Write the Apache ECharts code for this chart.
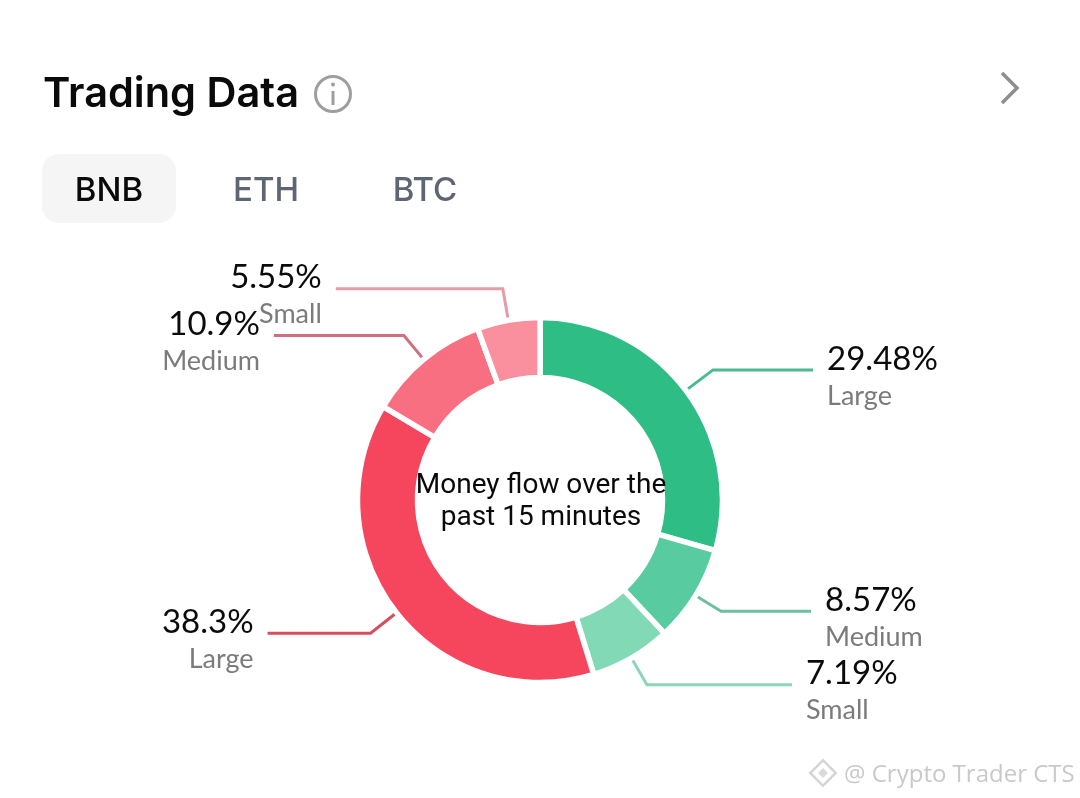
<!DOCTYPE html>
<html><head><meta charset="utf-8">
<style>html,body{margin:0;padding:0;background:#fff}#c{width:1080px;height:798px}</style>
<script src="https://cdn.jsdelivr.net/npm/echarts@6/dist/echarts.min.js"></script>
</head><body><div id="c"></div>
<script>
const sizes = ['Large','Medium','Small','Large','Medium','Small'];
const values = [29.48,8.57,7.19,38.3,10.9,5.55];
const sliceColors = ['#2EBD85','#58CBA0','#82D9B6','#F6465D','#F86F81','#FA909E'];
const lineColors = ['#4DBA92','#6DBFA3','#8CD5B9','#D4505F','#D0707E','#E59CA6'];
const lineLen = [34,30,31,33,31,32];
const lineLen2 = [100,90,145,103,130,167];
const tabs = ['BNB','ETH','BTC'];
const centerLines = ['Money flow over the','past 15 minutes'];

const chart = echarts.init(document.getElementById('c'),null,{renderer:'canvas'});
const F = 'Inter, "Open Sans", sans-serif';
const L = 'Lato, "Open Sans", sans-serif';
chart.setOption({
  animation:false,
  backgroundColor:'#fff',
  series:[{
    type:'pie',
    center:[540,500],
    radius:[122.5,182.5],
    startAngle:90,
    clockwise:true,
    avoidLabelOverlap:false,
    minShowLabelAngle:0,
    labelLayout:{hideOverlap:false,moveOverlap:false},
    itemStyle:{borderColor:'#fff',borderWidth:5.5},
    emphasis:{disabled:true},
    label:{
      formatter:p=>'{v|'+p.value+'%}\n{n|'+p.data.name+'}',
      padding:[15,0,0,0],
      distanceToLabelLine:14,
      rich:{
        v:{fontFamily:L,fontSize:33,color:'#0b0b0b',lineHeight:37},
        n:{fontFamily:L,fontSize:27,color:'#7b7b7b',lineHeight:37}
      }
    },
    data:values.map((v,i)=>({
      value:v,name:sizes[i],
      itemStyle:{color:sliceColors[i]},
      labelLine:{show:true,length:lineLen[i],length2:lineLen2[i],smooth:false,lineStyle:{color:lineColors[i],width:3}}
    }))
  }],
  graphic:[
    {type:'text',x:43,y:95,z:100,style:{text:'Trading Data',font:'600 41.5px '+F,fill:'#0a0a0a',align:'left',verticalAlign:'middle'}},
    {type:'circle',shape:{cx:333,cy:94,r:17.5},style:{fill:'none',stroke:'#9E9E9E',lineWidth:3}},
    {type:'rect',shape:{x:331.5,y:91,width:3,height:14},style:{fill:'#9E9E9E'}},
    {type:'circle',shape:{cx:333,cy:84.5,r:2},style:{fill:'#9E9E9E'}},
    {type:'polyline',shape:{points:[[1002,73],[1017,88],[1002,103]]},style:{fill:'none',stroke:'#8E8E8E',lineWidth:3.5}},
    {type:'rect',shape:{x:42,y:154,width:134,height:69,r:17},style:{fill:'#F5F5F5'}},
    {type:'text',x:109,y:191,z:100,style:{text:tabs[0],font:'500 33px '+F,fill:'#0a0a0a',align:'center',verticalAlign:'middle'}},
    {type:'text',x:266,y:191,z:100,style:{text:tabs[1],font:'500 33px '+F,fill:'#5E6673',align:'center',verticalAlign:'middle'}},
    {type:'text',x:425,y:191,z:100,style:{text:tabs[2],font:'500 33px '+F,fill:'#5E6673',align:'center',verticalAlign:'middle'}},
    {type:'text',x:541,y:486,z:100,style:{text:centerLines[0],font:'28px Roboto',fill:'#0a0a0a',align:'center',verticalAlign:'middle'}},
    {type:'text',x:541,y:518,z:100,style:{text:centerLines[1],font:'28px Roboto',fill:'#0a0a0a',align:'center',verticalAlign:'middle'}},
    {type:'rect',x:823,y:773,rotation:Math.PI/4,shape:{x:-9,y:-9,width:18,height:18},style:{fill:'none',stroke:'#D5D5D5',lineWidth:2.5}},
    {type:'rect',x:823,y:773,rotation:Math.PI/4,shape:{x:-3.5,y:-3.5,width:7,height:7},style:{fill:'#DADADA'}},
    {type:'text',x:844,y:775,z:100,style:{text:'@ Crypto Trader CTS',font:'24px "Open Sans"',fill:'#C9C9C9',align:'left',verticalAlign:'middle'}}
  ]
});
</script></body></html>
